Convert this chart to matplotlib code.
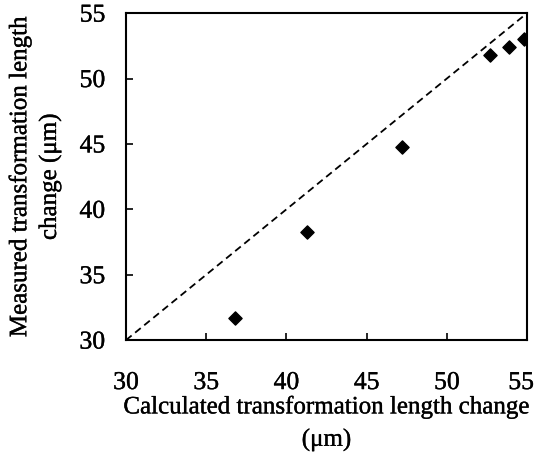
import matplotlib
matplotlib.use('Agg')
import matplotlib.pyplot as plt
import matplotlib.patheffects as pe
from matplotlib.transforms import ScaledTranslation

# data
calc = [36.8, 41.3, 47.2, 52.7, 53.9, 54.8]
meas = [31.7, 38.3, 44.8, 51.8, 52.4, 53.0]
line_x = [30, 55]
ticks = [30, 35, 40, 45, 50, 55]

plt.rcParams['font.family'] = ['Liberation Serif', 'DejaVu Serif']
plt.rcParams['font.size'] = 18

fig = plt.figure(figsize=(5.34, 4.56), dpi=100)
ax = fig.add_axes([0.236, 0.252, 0.751, 0.717])

ax.plot(line_x, line_x, color='black', linestyle=(0, (4, 2.5)), linewidth=1.3)
ax.scatter(calc, meas, marker='D', s=45, color='black', zorder=3)

ax.set_xlim(30, 55)
ax.set_ylim(30, 55)
ax.set_xticks(ticks)
ax.set_yticks(ticks)
ax.tick_params(direction='in', length=5, width=1.2, labelsize=18.5)
ax.tick_params(axis='x', pad=23)
ax.tick_params(axis='y', pad=15)
for s in ax.spines.values():
    s.set_linewidth(1.5)

ax.set_xlabel('Calculated transformation length change\n(\u03bcm)', linespacing=1.55, labelpad=1)
ax.set_ylabel('Measured transformation length\nchange (\u03bcm)', linespacing=1.4, labelpad=13)

stroke = [pe.withStroke(linewidth=0.25, foreground='black')]
for t in ax.get_xticklabels() + ax.get_yticklabels() + [ax.xaxis.label, ax.yaxis.label]:
    t.set_path_effects(stroke)
# keep the last x label inside the figure
last = ax.get_xticklabels()[-1]
last.set_transform(last.get_transform() + ScaledTranslation(-6 / 100, 0, fig.dpi_scale_trans))

fig.savefig('out.png', dpi=100)
